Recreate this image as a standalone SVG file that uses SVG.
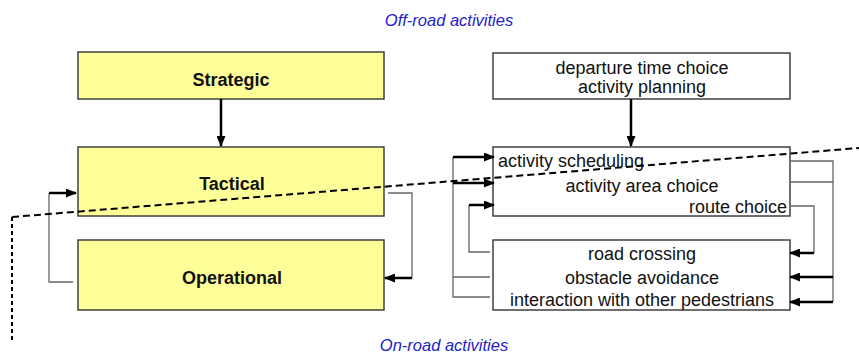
<svg xmlns="http://www.w3.org/2000/svg" width="859" height="356" viewBox="0 0 859 356">
<defs>
<style>
.y{fill:#ffff99;stroke:#333;stroke-width:1.4}
.w{fill:#fff;stroke:#333;stroke-width:1.4}
.tb{font-family:"Liberation Sans",Arial,sans-serif;font-size:18px;font-weight:bold;fill:#111;text-anchor:middle}
.t{font-family:"Liberation Sans",Arial,sans-serif;font-size:18px;fill:#111;text-anchor:middle}
.bl{font-family:"Liberation Sans",Arial,sans-serif;font-size:16.5px;font-style:italic;fill:#2222cc;text-anchor:middle}
.thin{fill:none;stroke:#666;stroke-width:1.3}
.thick{fill:none;stroke:#000;stroke-width:2.5;marker-end:url(#ah)}
.dash{fill:none;stroke:#000;stroke-width:2;stroke-dasharray:7 4}
.dot{fill:none;stroke:#000;stroke-width:2;stroke-dasharray:4 3}
</style>
<marker id="ah" markerUnits="userSpaceOnUse" markerWidth="11" markerHeight="9" refX="10" refY="4.5" orient="auto">
<path d="M0,0 L11,4.5 L0,9 z" fill="#000"/>
</marker>
</defs>
<rect width="859" height="356" fill="#fff"/>
<text class="bl" x="449" y="25.5">Off-road activities</text>
<text class="bl" x="444" y="351">On-road activities</text>
<g id="strategic"><rect class="y" x="78" y="52" width="306" height="47"/><text class="tb" x="231" y="86">Strategic</text></g>
<g id="tactical"><rect class="y" x="78" y="147" width="306" height="69"/><text class="tb" x="232" y="190">Tactical</text></g>
<g id="operational"><rect class="y" x="78" y="240" width="306" height="70"/><text class="tb" x="232" y="284">Operational</text></g>
<g id="offroad-box"><rect class="w" x="493" y="53" width="297" height="46"/><text class="t" x="642" y="73.5">departure time choice</text><text class="t" x="642" y="93">activity planning</text></g>
<g id="tactical-box"><rect class="w" x="493" y="147" width="297" height="69"/>
<text class="t" x="498" y="167" style="text-anchor:start">activity scheduling</text>
<text class="t" x="642" y="191.5">activity area choice</text>
<text class="t" x="787" y="212.5" style="text-anchor:end">route choice</text></g>
<g id="operational-box"><rect class="w" x="493" y="240" width="297" height="70"/>
<text class="t" x="642" y="259.5">road crossing</text>
<text class="t" x="642" y="284">obstacle avoidance</text>
<text class="t" x="642" y="305.5">interaction with other pedestrians</text></g>
<g id="connectors">
<path class="thick" d="M221 99 V146"/>
<path class="thick" d="M631 99 V146"/>
<path class="thin" d="M73 282 H49 V193"/>
<path class="thick" d="M49 193 H76"/>
<path class="thin" d="M388 193 H412 V278"/>
<path class="thick" d="M412 278 H385"/>
<path class="thin" d="M490 297 H453 V157 M490 277 H453"/>
<path class="thick" d="M453 157 H494"/>
<path class="thick" d="M453 183 H494"/>
<path class="thin" d="M490 252 H469 V205"/>
<path class="thick" d="M469 205 H494"/>
<path class="thin" d="M791 161 H833 V302 M791 182 H833"/>
<path class="thick" d="M833 277 H790"/>
<path class="thick" d="M833 302 H790"/>
<path class="thin" d="M791 206 H814 V253"/>
<path class="thick" d="M814 253 H790"/>
</g>
<path class="dash" d="M12 217 L859 148"/>
<path class="dot" d="M12 217 V340"/>
</svg>
